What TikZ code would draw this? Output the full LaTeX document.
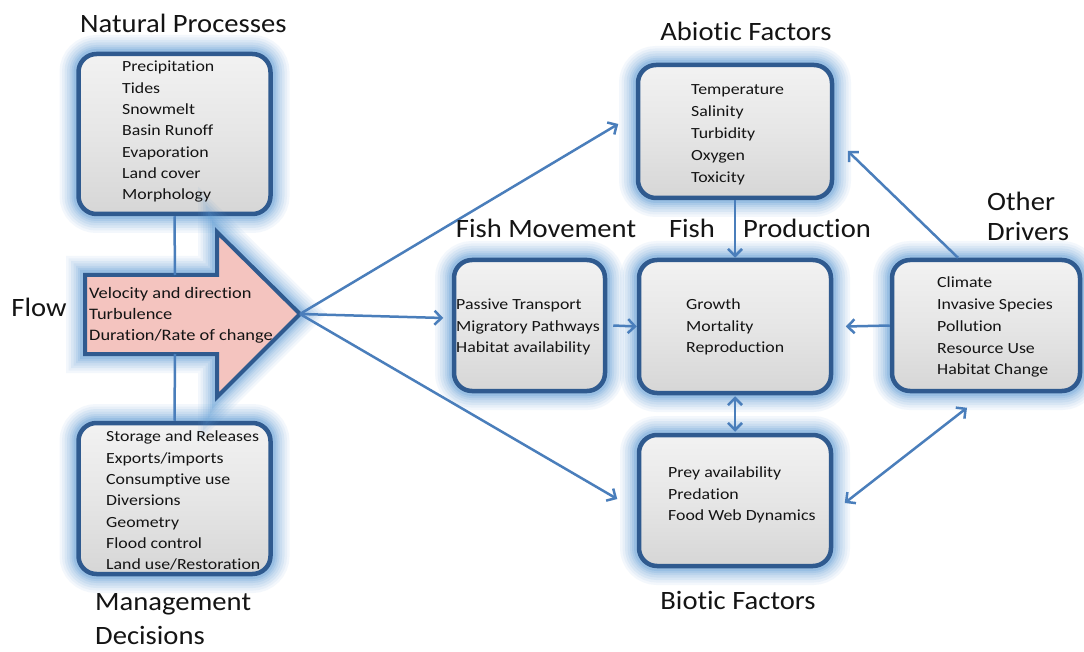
\documentclass[tikz,border=0pt]{standalone}
\usepackage{fontspec}
\setmainfont{Carlito}[FakeStretch=1.15, Ligatures=NoCommon]
\newfontfamily\titlefont{Carlito}[FakeStretch=1.08, Ligatures=NoCommon]
\usetikzlibrary{arrows.meta,calc}
\definecolor{bordc}{HTML}{2F5A8F}
\definecolor{glowc}{HTML}{5B9BD5}
\definecolor{arrc}{HTML}{4A7EBB}
\definecolor{flowc}{HTML}{F4C4BF}
\definecolor{txtc}{HTML}{141414}
\definecolor{boxtop}{HTML}{F2F2F2}
\definecolor{boxmid}{HTML}{E6E6E6}
\definecolor{boxbot}{HTML}{D6D6D6}
\begin{document}
\begin{tikzpicture}[x=1pt,y=-1pt,
  glow/.style={preaction={draw=glowc, line width=38pt, opacity=0.07},
               preaction={draw=glowc, line width=33pt, opacity=0.08},
               preaction={draw=glowc, line width=28pt, opacity=0.10},
               preaction={draw=glowc, line width=23pt, opacity=0.11},
               preaction={draw=glowc, line width=18pt, opacity=0.13},
               preaction={draw=glowc, line width=14pt, opacity=0.16},
               preaction={draw=glowc, line width=10pt, opacity=0.22}},
  box/.style={glow, rectangle, rounded corners=18pt, draw=bordc, line width=4.5pt,
              top color=boxtop, bottom color=boxbot, middle color=boxmid, inner sep=0pt},
  conn/.style={draw=arrc, line width=2.5pt},
  arr/.style={conn, -{Straight Barb[length=7pt,width=14pt]}},
  darr/.style={conn, {Straight Barb[length=7pt,width=14pt]}-{Straight Barb[length=7pt,width=14pt]}},
  item/.style={anchor=north west, inner sep=0pt, align=left, text=txtc},
  title/.style={inner sep=0pt, text=txtc, font=\titlefont\fontsize{26.5}{34}\selectfont}
]
\fill[white] (0,0) rectangle (1084,652);
\useasboundingbox (0,0) rectangle (1084,652);

% boxes
\node[box, minimum width=192pt, minimum height=160pt] (np) at (174.5,134) {};
\node[box, minimum width=192pt, minimum height=151pt] (mg) at (174.5,498.5) {};
\node[box, minimum width=194pt, minimum height=133pt] (ab) at (735,131.5) {};
\node[box, minimum width=151pt, minimum height=131pt] (fm) at (529.5,325.5) {};
\node[box, minimum width=192pt, minimum height=133pt] (fp) at (735,326.5) {};
\node[box, minimum width=192pt, minimum height=131pt] (bio) at (735,500.5) {};
\node[box, minimum width=188pt, minimum height=131pt] (od) at (986,325.5) {};

% flow arrow
\draw[glow, draw=bordc, line width=4pt, fill=flowc, line join=miter]
  (85,275) -- (217,275) -- (217,232) -- (300,314) -- (217,397) -- (217,354) -- (85,354) -- cycle;
\coordinate (tip) at (300,314);
\coordinate (ftop) at (175,275);
\coordinate (fbot) at (175,354);

% connectors
\draw[conn] (np.south) -- (ftop);
\draw[conn] (fbot) -- (mg.north);
\draw[arr] (tip) -- ([shift={(-17.5,-7.5)}]ab.west);
\draw[arr] (tip) -- ([shift={(-8.5,-7.5)}]fm.west);
\draw[arr] (tip) -- ([shift={(-19.5,-1.5)}]bio.west);
\draw[arr] ([xshift=6]fm.east) -- (fp.west);
\draw[arr] (od.west) -- ([xshift=12.5]fp.east);
\draw[arr] ([xshift=-28]od.north) -- ([shift={(13.5,19.5)}]ab.east);
\draw[darr] ([shift={(11.5,2.5)}]bio.east) -- ([shift={(-19,14.5)}]od.south);
\draw[arr] (ab.south) -- (fp.north);
\draw[darr, shorten <=1pt, shorten >=1pt] (fp.south) -- (bio.north);

% item texts
\node[item, font=\fontsize{15.5}{21.3}\selectfont] (npt) at (122,61)
  {Precipitation\\Tides\\Snowmelt\\Basin Runoff\\Evaporation\\Land cover\\Morphology};
\node[item, font=\fontsize{16}{21}\selectfont] (flt) at (89,287)
  {Velocity and direction\\Turbulence\\Duration/Rate of change};
\node[item, font=\fontsize{15.5}{21.3}\selectfont] (mgt) at (106,431)
  {Storage and Releases\\Exports/imports\\Consumptive use\\Diversions\\Geometry\\Flood control\\Land use/Restoration};
\node[item, font=\fontsize{15.5}{22}\selectfont] (abt) at (691,84)
  {Temperature\\Salinity\\Turbidity\\Oxygen\\Toxicity};
\node[item, font=\fontsize{15.5}{21.3}\selectfont] (fmt) at (456,299)
  {Passive Transport\\Migratory Pathways\\Habitat availability};
\node[item, font=\fontsize{15.5}{21.3}\selectfont] (fpt) at (686,299)
  {Growth\\Mortality\\Reproduction};
\node[item, font=\fontsize{15.5}{21.3}\selectfont] (biot) at (668,467)
  {Prey availability\\Predation\\Food Web Dynamics};
\node[item, font=\fontsize{15.5}{21.75}\selectfont] (odt) at (937,277)
  {Climate\\Invasive Species\\Pollution\\Resource Use\\Habitat Change};

% titles
\node[title, anchor=north west] (npl) at (80,13.5) {Natural Processes};
\node[title, anchor=north] (abl) at (746,21.5) {Abiotic Factors};
\node[title, anchor=north] (fml) at (546,218.5) {Fish Movement};
\node[title, anchor=north] (fpl1) at (692,218.5) {Fish};
\node[title, anchor=north] (fpl2) at (807,218.5) {Production};
\node[title, anchor=north west, align=left, font=\titlefont\fontsize{26.5}{30}\selectfont] (odl) at (987,191.5) {Other\\Drivers};
\node[title, anchor=north] (flowl) at (39,297.5) {Flow};
\node[title, anchor=north west, align=left] (mgl) at (95,593.5) {Management\\Decisions};
\node[title, anchor=north] (biol) at (738,591.5) {Biotic Factors};
\end{tikzpicture}
\end{document}
